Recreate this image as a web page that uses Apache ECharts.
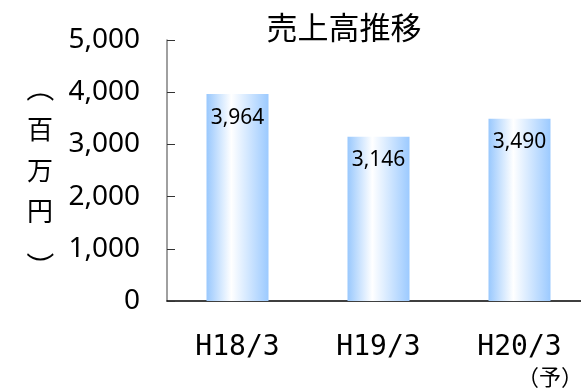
<!DOCTYPE html>
<html>
<head>
<meta charset="utf-8">
<script src="https://cdn.jsdelivr.net/npm/echarts@6/dist/echarts.min.js"></script>
<style>
  html, body { margin: 0; padding: 0; background: #fff; }
  #chart { width: 581px; height: 391px; }
</style>
</head>
<body>
<div id="chart"></div>
<script>
// Sales by fiscal year (million yen); the last year is a forecast
const categories = ['H18/3', 'H19/3', 'H20/3'];
const sales = [3964, 3146, 3490];
const yTicks = [0, 1000, 2000, 3000, 4000, 5000];
const titleText = '売上高推移';
const unitText = '百万円';
const forecastNote = '（予）';

const jp = '"Noto Sans CJK JP", "Noto Sans", sans-serif';

const barFill = new echarts.graphic.LinearGradient(0, 0, 1, 0, [
  { offset: 0, color: '#99c8fd' },
  { offset: 0.4, color: '#ffffff' },
  { offset: 1, color: '#9ccaff' }
]);

const chart = echarts.init(document.getElementById('chart'), null, { renderer: 'canvas' });

// bracket glyphs turned sideways to frame the vertical unit label
function sideBracket(ch, y) {
  return {
    type: 'text', x: 40, y: y, rotation: -Math.PI / 2,
    style: { text: ch, font: '28px ' + jp, fill: '#000', textAlign: 'center', textVerticalAlign: 'middle' }
  };
}

chart.setOption({
  animation: false,
  backgroundColor: '#ffffff',
  title: {
    text: titleText,
    left: 339,
    textAlign: 'center',
    top: 7,
    textStyle: { fontFamily: jp, fontSize: 31, fontWeight: 'normal', color: '#000' }
  },
  // the last category band runs slightly past the right edge of the canvas
  grid: { left: 167, width: 423, top: 40, bottom: 90, containLabel: false, outerBoundsMode: 'none' },
  xAxis: {
    type: 'category',
    data: categories,
    axisLine: { lineStyle: { color: '#000', width: 1.5 } },
    axisTick: { inside: true, length: 8, lineStyle: { color: '#333' } },
    axisLabel: {
      margin: 33,
      fontFamily: '"DejaVu Sans Mono", monospace',
      fontSize: 28,
      color: '#000'
    }
  },
  yAxis: {
    type: 'value',
    min: yTicks[0],
    max: yTicks[yTicks.length - 1],
    interval: yTicks[1] - yTicks[0],
    name: unitText.split('').join('\n'),
    nameLocation: 'middle',
    nameRotate: 0,
    nameGap: 127,
    nameTextStyle: { fontFamily: jp, fontSize: 26, lineHeight: 41, color: '#000', align: 'center', verticalAlign: 'middle', padding: [3, 0, 0, 0] },
    splitLine: { show: false },
    axisLine: { show: true, lineStyle: { color: '#808080', width: 1.5 } },
    axisTick: { show: true, inside: true, length: 8, lineStyle: { color: '#333' } },
    axisLabel: {
      margin: 27,
      fontFamily: '"Noto Sans", sans-serif',
      fontSize: 28,
      color: '#000',
      formatter: v => v.toLocaleString('en-US')
    }
  },
  series: [{
    type: 'bar',
    data: sales,
    barWidth: 62,
    itemStyle: { color: barFill },
    label: {
      show: true,
      position: 'insideTop',
      distance: 13,
      fontFamily: '"Noto Sans", sans-serif',
      fontSize: 21,
      color: '#000',
      formatter: p => p.value.toLocaleString('en-US')
    }
  }],
  graphic: [
    sideBracket('（', 88),
    sideBracket('）', 266),
    {
      type: 'text',
      right: -2,
      top: 366,
      style: { text: forecastNote, font: '22px ' + jp, fill: '#000' }
    }
  ]
});
</script>
</body>
</html>
